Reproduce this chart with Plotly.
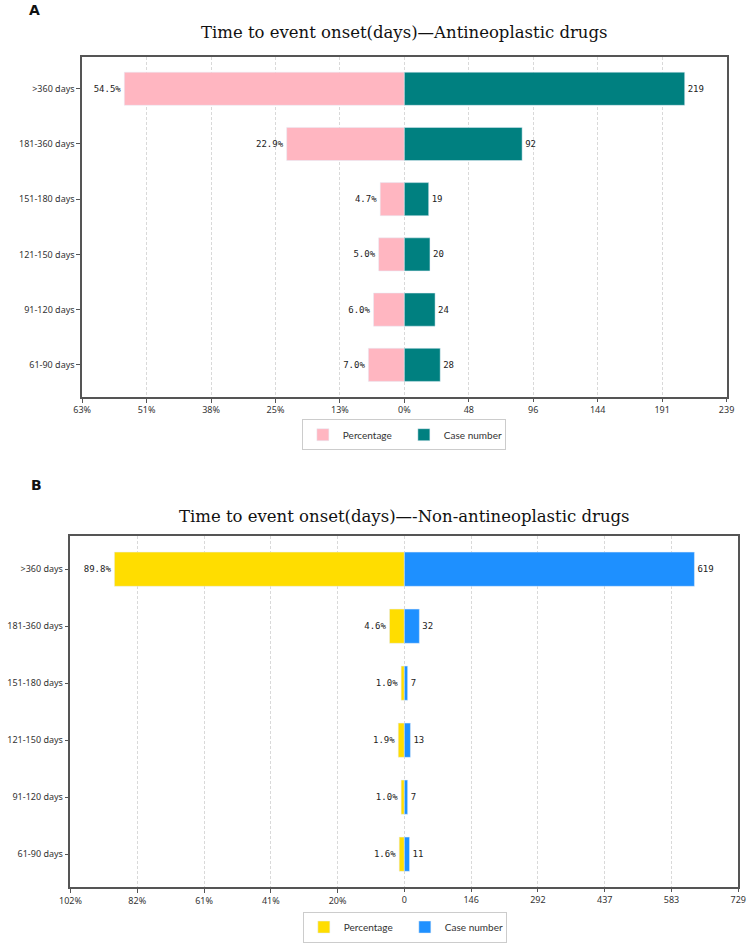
import plotly.graph_objects as go

# ---------------- data ----------------
categories = [">360 days", "181-360 days", "151-180 days", "121-150 days", "91-120 days", "61-90 days"]

a_percent = [54.5, 22.9, 4.7, 5.0, 6.0, 7.0]
a_cases = [219, 92, 19, 20, 24, 28]
a_pct_ticklabels = ["63%", "51%", "38%", "25%", "13%", "0%"]
a_cnt_ticklabels = ["48", "96", "144", "191", "239"]

b_percent = [89.8, 4.6, 1.0, 1.9, 1.0, 1.6]
b_cases = [619, 32, 7, 13, 7, 11]
b_pct_ticklabels = ["102%", "82%", "61%", "41%", "20%"]
b_cnt_ticklabels = ["0", "146", "292", "437", "583", "729"]

# half-axis extents
a_pct_extent = 62.7
a_cnt_extent = 251.7
b_pct_extent = 103.4
b_cnt_extent = 712.5

title_a = "Time to event onset(days)—Antineoplastic drugs"
title_b = "Time to event onset(days)—-Non-antineoplastic drugs"

# ---------------- styling ----------------
W, H = 756, 943
PINK, TEAL = "#FFB6C1", "#008080"
GOLD, BLUE = "#FFDD00", "#1E90FF"
TICKFONT = dict(family="Noto Sans", size=9, color="#333")
LABELFONT = dict(family="DejaVu Sans Mono", size=9, color="#222")
AXCOL = "#555"


def fx(px):
    return px / W


def fy(py):
    return 1 - py / H


fig = go.Figure()

# Panel A
fig.add_trace(go.Bar(y=categories, x=[-v for v in a_percent], orientation="h", width=0.6,
                     marker_color=PINK, name="Percentage", xaxis="x", yaxis="y",
                     text=[f"{v:.1f}%" for v in a_percent], textposition="outside",
                     textfont=LABELFONT, cliponaxis=False, constraintext="none",
                     legend="legend", hoverinfo="skip"))
fig.add_trace(go.Bar(y=categories, x=a_cases, orientation="h", width=0.6,
                     marker_color=TEAL, name="Case number", xaxis="x2", yaxis="y",
                     text=[str(v) for v in a_cases], textposition="outside",
                     textfont=LABELFONT, cliponaxis=False, constraintext="none",
                     legend="legend", hoverinfo="skip"))

# Panel B
fig.add_trace(go.Bar(y=categories, x=[-v for v in b_percent], orientation="h", width=0.6,
                     marker_color=GOLD, name="Percentage", xaxis="x3", yaxis="y2",
                     text=[f"{v:.1f}%" for v in b_percent], textposition="outside",
                     textfont=LABELFONT, cliponaxis=False, constraintext="none",
                     legend="legend2", hoverinfo="skip"))
fig.add_trace(go.Bar(y=categories, x=b_cases, orientation="h", width=0.6,
                     marker_color=BLUE, name="Case number", xaxis="x4", yaxis="y2",
                     text=[str(v) for v in b_cases], textposition="outside",
                     textfont=LABELFONT, cliponaxis=False, constraintext="none",
                     legend="legend2", hoverinfo="skip"))

n = len(categories)
yr = [n - 1 + 0.58, -0.58]


def xax(domain, rng, tickvals, ticktext, anchor, overlaying=None, show_line=True):
    d = dict(domain=domain, range=rng, tickvals=tickvals, ticktext=ticktext,
             tickfont=TICKFONT, ticks="outside", ticklen=4, tickcolor=AXCOL,
             showgrid=True, gridcolor="#d9d9d9", griddash="3px,2px", gridwidth=1,
             zeroline=False, anchor=anchor, fixedrange=True)
    if show_line:
        d.update(showline=True, linecolor=AXCOL, linewidth=1.5, mirror=True)
    else:
        d.update(showline=False)
    if overlaying:
        d.update(overlaying=overlaying, side="bottom")
    return d


a_pct_vals = [-a_pct_extent + i * a_pct_extent / 5 for i in range(6)]
a_cnt_vals = [(i + 1) * a_cnt_extent / 5 for i in range(5)]
b_pct_vals = [-b_pct_extent + i * b_pct_extent / 5 for i in range(5)]
b_cnt_vals = [i * b_cnt_extent / 5 for i in range(6)]

dom_ax = [fx(73), fx(734)]
dom_ay = [fy(399), fy(57)]
dom_bx = [fx(61), fx(746)]
dom_by = [fy(892), fy(539)]

legend_common = dict(orientation="h", xanchor="center", yanchor="middle",
                     bordercolor="#cccccc", borderwidth=1,
                     font=dict(family="Lato", size=10, color="#333"),
                     entrywidth=56, bgcolor="white", traceorder="normal",
                     itemwidth=30, tracegroupgap=0)

layout = dict(
    width=W, height=H, margin=dict(l=0, r=0, t=0, b=0),
    paper_bgcolor="white", plot_bgcolor="white", barmode="overlay",
    xaxis=xax(dom_ax, [-a_pct_extent, a_pct_extent], a_pct_vals, a_pct_ticklabels, "y"),
    xaxis2=xax(dom_ax, [-a_cnt_extent, a_cnt_extent], a_cnt_vals, a_cnt_ticklabels, "y", overlaying="x", show_line=False),
    xaxis3=xax(dom_bx, [-b_pct_extent, b_pct_extent], b_pct_vals, b_pct_ticklabels, "y2"),
    xaxis4=xax(dom_bx, [-b_cnt_extent, b_cnt_extent], b_cnt_vals, b_cnt_ticklabels, "y2", overlaying="x3", show_line=False),
    yaxis=dict(domain=dom_ay, range=yr, type="category", tickfont=TICKFONT, ticks="outside",
               ticklen=4, tickcolor=AXCOL, showline=True, linecolor=AXCOL, linewidth=1.5,
               mirror=True, anchor="x", showgrid=False, fixedrange=True),
    yaxis2=dict(domain=dom_by, range=yr, type="category", tickfont=TICKFONT, ticks="outside",
                ticklen=4, tickcolor=AXCOL, showline=True, linecolor=AXCOL, linewidth=1.5,
                mirror=True, anchor="x3", showgrid=False, fixedrange=True),
    legend=dict(x=fx(403), y=fy(437), **legend_common),
    legend2=dict(x=fx(404), y=fy(932), **legend_common),
    showlegend=True,
    annotations=[
        dict(text=title_a, x=fx(403.5), y=fy(33), xref="paper", yref="paper", showarrow=False,
             xanchor="center", yanchor="middle", font=dict(family="DejaVu Serif", size=16.5, color="#111")),
        dict(text=title_b, x=fx(403.5), y=fy(519), xref="paper", yref="paper", showarrow=False,
             xanchor="center", yanchor="middle", font=dict(family="DejaVu Serif", size=16.5, color="#111")),
        dict(text="<b>A</b>", x=fx(16), y=fy(10), xref="paper", yref="paper", showarrow=False,
             xanchor="left", yanchor="middle", font=dict(family="DejaVu Sans", size=14, color="#111")),
        dict(text="<b>B</b>", x=fx(18), y=fy(488), xref="paper", yref="paper", showarrow=False,
             xanchor="left", yanchor="middle", font=dict(family="DejaVu Sans", size=14, color="#111")),
    ],
)
fig.update_layout(**layout)

fig.write_html("out.html")
